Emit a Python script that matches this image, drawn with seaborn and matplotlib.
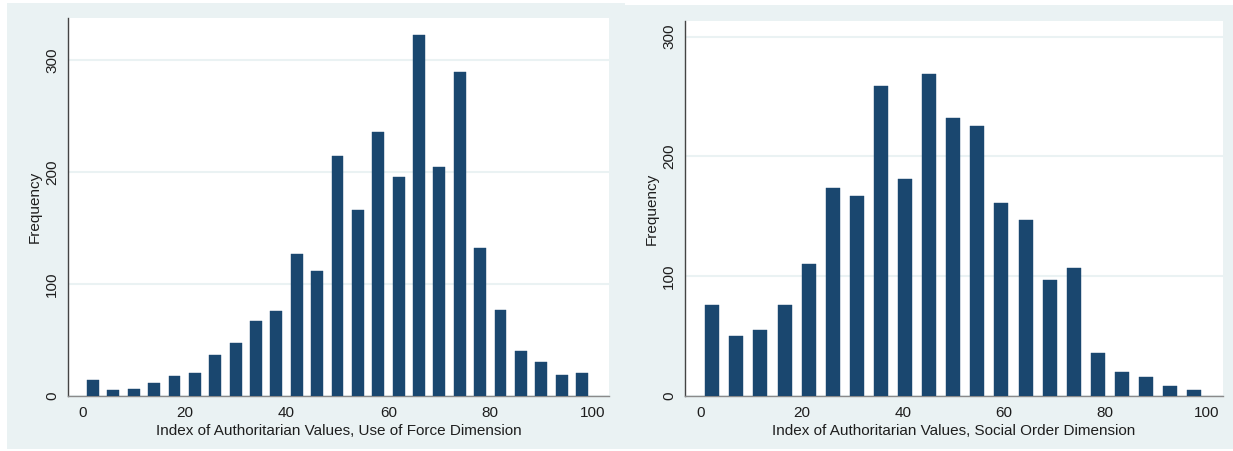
import numpy as np
import pandas as pd
import matplotlib
matplotlib.use("Agg")
import matplotlib.pyplot as plt
from matplotlib.patches import Rectangle
import seaborn as sns

# frequencies
force_counts = [14, 5, 6, 12, 18, 21, 37, 47, 67, 76, 127, 112, 215,
                166, 236, 196, 323, 205, 290, 132, 77, 40, 30, 19, 21]
order_counts = [76, 50, 55, 76, 110, 174, 167, 259, 181, 269, 232,
                225, 161, 147, 97, 107, 36, 20, 16, 8, 5]
force_label = "Index of Authoritarian Values, Use of Force Dimension"
order_label = "Index of Authoritarian Values, Social Order Dimension"
y_ticks = [0, 100, 200, 300]
x_ticks = [0, 20, 40, 60, 80, 100]

bar_color = "#1A476F"
bg_color = "#EAF2F3"
text_color = "#1e1e1e"

sns.set_style("white")
plt.rcParams["font.family"] = ["Liberation Sans", "DejaVu Sans"]

W, H = 1233, 451
fig = plt.figure(figsize=(W / 100, H / 100), dpi=100)
fig.patch.set_facecolor("white")

# panel backgrounds (pixel boxes: x0, y0_top, x1, y1_top)
for x0, y0, x1, y1 in [(7, 3, 625, 449), (625, 5, 1233, 449)]:
    fig.add_artist(Rectangle((x0 / W, 1 - y1 / H), (x1 - x0) / W, (y1 - y0) / H,
                             transform=fig.transFigure, facecolor=bg_color,
                             edgecolor="none", zorder=-10))


def panel(box, counts, n_bins, xlim, ylim, xlabel):
    x0, y0, x1, y1 = box
    ax = fig.add_axes([x0 / W, 1 - y1 / H, (x1 - x0) / W, (y1 - y0) / H])
    ax.set_facecolor("white")
    edges = np.linspace(0, 100, n_bins + 1)
    df = pd.DataFrame({"value": (edges[:-1] + edges[1:]) / 2, "freq": counts})
    sns.histplot(data=df, x="value", weights="freq", bins=n_bins, binrange=(0, 100),
                 shrink=0.58, color=bar_color, alpha=1, edgecolor=bar_color,
                 linewidth=0.3, ax=ax, zorder=3)
    ax.set_xlim(*xlim)
    ax.set_ylim(*ylim)
    ax.set_yticks(y_ticks)
    ax.set_xticks(x_ticks)
    ax.yaxis.grid(True, color=bg_color, linewidth=1.5, zorder=0)
    ax.set_axisbelow(True)
    for s in ["top", "right"]:
        ax.spines[s].set_visible(False)
    ax.spines["left"].set_color("#444444")
    ax.spines["left"].set_linewidth(1.0)
    ax.spines["bottom"].set_color("#8a8a8a")
    ax.spines["bottom"].set_linewidth(1.0)
    ax.tick_params(axis="y", length=5, width=0.8, color="#444444", pad=1.5,
                   labelsize=11, labelcolor=text_color, labelrotation=90)
    for lab in ax.get_yticklabels():
        lab.set_va("center")
    ax.tick_params(axis="x", length=0, pad=7, labelsize=11, labelcolor=text_color)
    ax.set_xlabel(xlabel, fontsize=11, color=text_color, labelpad=3)
    ax.set_ylabel("Frequency", fontsize=11, color=text_color, labelpad=2)
    return ax


panel((68, 18, 609, 396), force_counts, 25, (-2.9, 103.3), (0, 338), force_label)
panel((685, 21, 1223, 396), order_counts, 21, (-3.0, 103.3), (0, 313), order_label)

fig.savefig("out.png", dpi=100, facecolor=fig.get_facecolor())
